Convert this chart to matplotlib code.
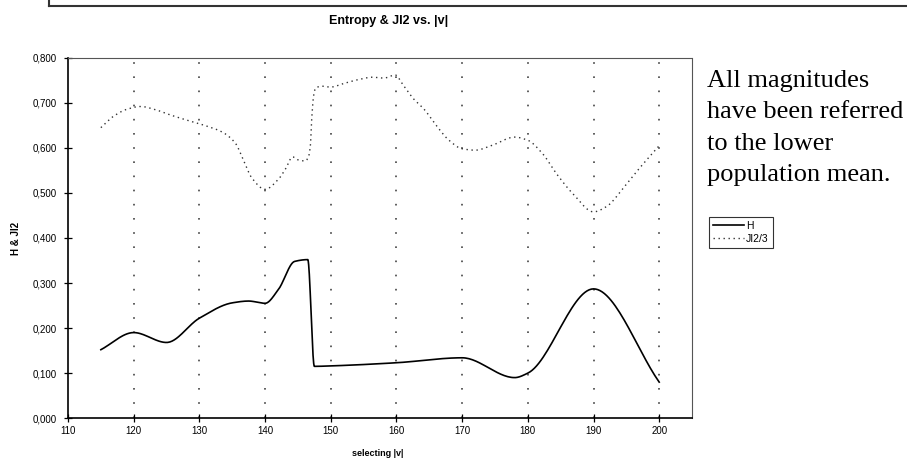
import matplotlib
matplotlib.use("Agg")
import matplotlib.pyplot as plt
import numpy as np
from matplotlib.lines import Line2D
from matplotlib.ticker import FuncFormatter

plt.rcParams.update({
    "font.family": ["Liberation Sans", "DejaVu Sans"],
    "font.size": 7,
})

# --- values ------------------------------------------------------------------
H_V = [115, 120, 125, 130, 135, 137.5, 140, 142, 144.5, 146.5, 147.5, 150,
       160, 170, 178, 180, 190, 200]
H_VAL = [0.152, 0.190, 0.168, 0.222, 0.256, 0.260, 0.255, 0.285, 0.348,
         0.352, 0.115, 0.116, 0.123, 0.134, 0.090, 0.100, 0.287, 0.080]

J_V = [115, 117, 119, 121, 123.5, 125, 128, 131, 133.5, 135.5, 136.7, 138,
       140, 142, 143.1, 144.2, 145.1, 146.1, 146.6, 146.9, 147.1, 147.4,
       147.7, 148.7, 149.9, 152.2, 154.3, 156.3, 158.1, 159.8, 161, 162.6,
       164.2, 166.1, 168, 170, 172, 174.6, 178, 180, 182.2, 184.5, 187, 190,
       192, 194.7, 197, 200]
J_VAL = [0.645, 0.671, 0.686, 0.692, 0.684, 0.676, 0.662, 0.649, 0.635,
         0.610, 0.573, 0.533, 0.508, 0.530, 0.553, 0.580, 0.573, 0.571,
         0.580, 0.606, 0.665, 0.717, 0.733, 0.737, 0.735, 0.744, 0.752,
         0.757, 0.755, 0.762, 0.740, 0.709, 0.686, 0.649, 0.617, 0.598,
         0.595, 0.606, 0.624, 0.617, 0.588, 0.540, 0.496, 0.458, 0.470,
         0.514, 0.555, 0.605]

X_TICKS = list(range(110, 201, 10))
Y_TICKS = [0.0, 0.1, 0.2, 0.3, 0.4, 0.5, 0.6, 0.7, 0.8]
NOTE = ["All magnitudes", "have been referred", "to the lower",
        "population mean."]


def smooth(x, y, n=30):
    """Monotone cubic (Fritsch-Carlson) curve through the read points,
    standing in for Excel's 'smoothed line'."""
    x = np.asarray(x, float)
    y = np.asarray(y, float)
    h = np.diff(x)
    d = np.diff(y) / h
    m = np.zeros_like(y)
    m[0], m[-1] = d[0], d[-1]
    for k in range(1, len(x) - 1):
        if d[k - 1] * d[k] > 0:
            w1 = 2 * h[k] + h[k - 1]
            w2 = h[k] + 2 * h[k - 1]
            m[k] = (w1 + w2) / (w1 / d[k - 1] + w2 / d[k])
    xs, ys = [], []
    for k in range(len(x) - 1):
        t = np.linspace(0, 1, n, endpoint=False)
        h00 = 2 * t**3 - 3 * t**2 + 1
        h10 = t**3 - 2 * t**2 + t
        h01 = -2 * t**3 + 3 * t**2
        h11 = t**3 - t**2
        xs.append(x[k] + t * h[k])
        ys.append(h00 * y[k] + h10 * h[k] * m[k] + h01 * y[k + 1]
                  + h11 * h[k] * m[k + 1])
    xs.append([x[-1]])
    ys.append([y[-1]])
    return np.concatenate(xs), np.concatenate(ys)


fig = plt.figure(figsize=(9.07, 4.59), dpi=100)
ax = fig.add_axes([0.075, 0.089, 0.688, 0.785])

for v in X_TICKS[1:]:
    ax.axvline(v, color="#444444", lw=1.2, linestyle=(0, (1, 7.5)), zorder=0)

hx, hy = smooth(H_V, H_VAL)
jx, jy = smooth(J_V, J_VAL, n=10)
ax.plot(hx, hy, color="black", lw=1.2, label="H")
ax.plot(jx, jy, color="#333333", lw=1.0, linestyle=(0, (1, 2.6)),
        label="JI2/3")

ax.set_xlim(110, 205)
ax.set_ylim(0, 0.8)
ax.set_xticks(X_TICKS)
ax.set_yticks(Y_TICKS)
ax.yaxis.set_major_formatter(FuncFormatter(lambda v, p: f"{v:.3f}".replace(".", ",")))
ax.tick_params(direction="inout", length=6, width=0.9, labelsize=7,
               colors="black")
ax.tick_params(axis="y", pad=5)
ax.tick_params(axis="x", pad=3)

for side in ("left", "bottom"):
    ax.spines[side].set_linewidth(1.2)
    ax.spines[side].set_color("black")
for side in ("top", "right"):
    ax.spines[side].set_linestyle((0, (1, 1)))
    ax.spines[side].set_linewidth(0.8)
    ax.spines[side].set_color("#555555")

ax.set_xlabel("selecting |v|", fontsize=6.5, fontweight="bold")
ax.xaxis.set_label_coords(0.497, -0.086)
ax.set_ylabel("H & JI2", fontsize=7, fontweight="bold")
ax.yaxis.set_label_coords(-0.075, 0.5)

fig.text(0.428, 0.954, "Entropy & JI2 vs. |v|", ha="center", va="center",
         fontsize=9, fontweight="bold")

leg = ax.legend(loc="upper left", bbox_to_anchor=(0.782, 0.527),
                bbox_transform=fig.transFigure, fontsize=7.5, frameon=True,
                fancybox=False, handlelength=3.0, handletextpad=0.2,
                borderpad=0.35, labelspacing=0.3, borderaxespad=0)
leg.get_frame().set_edgecolor("black")
leg.get_frame().set_linewidth(0.8)

for i, line in enumerate(NOTE):
    fig.text(0.7795, 1 - (87 + 31.5 * i) / 459, line, ha="left",
             va="baseline", fontsize=19, family="Liberation Serif")

# remains of the frame of the chart above on the scanned page
fig.add_artist(Line2D([0.054, 1.0], [0.987, 0.987], color="#333333", lw=1.5))
fig.add_artist(Line2D([0.054, 0.054], [0.987, 1.0], color="#333333", lw=1.5))

fig.savefig("out.png", dpi=100)
